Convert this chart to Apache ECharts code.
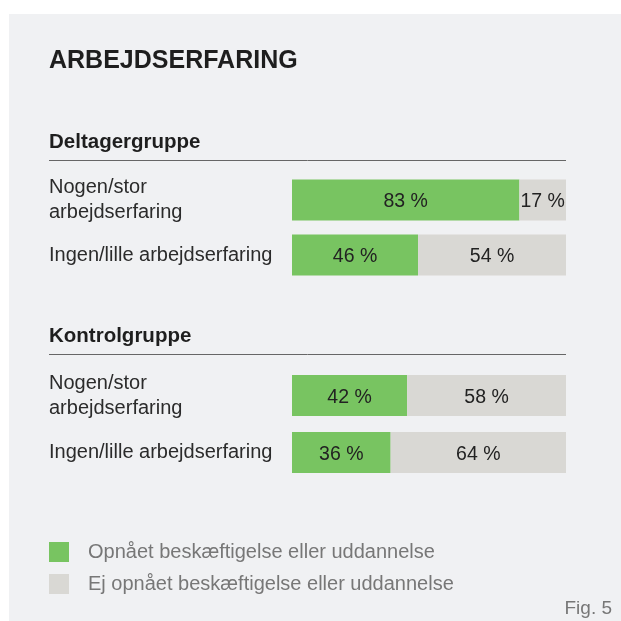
<!DOCTYPE html>
<html>
<head>
<meta charset="utf-8">
<script src="https://cdn.jsdelivr.net/npm/echarts@6/dist/echarts.min.js"></script>
<style>
  html, body { margin: 0; padding: 0; background: #fff; }
  #chart { width: 621px; height: 621px; }
</style>
</head>
<body>
<div id="chart"></div>
<script>
// data
var categories = ['Nogen/stor\narbejdserfaring', 'Ingen/lille arbejdserfaring'];
var deltagerOpnaaet = [83, 46];
var deltagerEj = [17, 54];
var kontrolOpnaaet = [42, 36];
var kontrolEj = [58, 64];
var seriesNames = ['Opnået beskæftigelse eller uddannelse', 'Ej opnået beskæftigelse eller uddannelse'];

var green = '#78c461';
var grey = '#d9d8d4';
var font = '"Liberation Sans", Arial, sans-serif';

var chart = echarts.init(document.getElementById('chart'));

function barLabel() {
    return {
        show: true,
        position: 'inside',
        offset: [0, 2],
        formatter: '{c} %',
        color: '#222',
        fontSize: 19.5,
        fontFamily: font
    };
}

function yAxis(gridIndex) {
    return {
        type: 'category',
        gridIndex: gridIndex,
        data: categories,
        inverse: true,
        axisLine: {show: false},
        axisTick: {show: false},
        axisLabel: {
            align: 'left',
            margin: 243,
            color: '#2b2b2b',
            fontSize: 20,
            lineHeight: 25,
            padding: [2, 0, 0, 0],
            fontFamily: font
        }
    };
}

function xAxis(gridIndex) {
    return {
        type: 'value',
        gridIndex: gridIndex,
        min: 0,
        max: 100,
        show: false
    };
}

var option = {
    backgroundColor: '#fff',
    animation: false,
    graphic: [
        {type: 'rect', shape: {x: 9, y: 14, width: 612, height: 607}, style: {fill: '#f0f1f3'}, z: -10},
        {type: 'text', left: 49, top: 49, style: {text: 'ARBEJDSERFARING', fill: '#1e1e1e', font: 'bold 25px ' + font}},
        {type: 'text', left: 49, top: 132, style: {text: 'Deltagergruppe', fill: '#1e1e1e', font: 'bold 20.5px ' + font}},
        {type: 'line', shape: {x1: 49, y1: 160.5, x2: 566, y2: 160.5}, style: {stroke: '#666', lineWidth: 1}},
        {type: 'text', left: 49, top: 326, style: {text: 'Kontrolgruppe', fill: '#1e1e1e', font: 'bold 20.5px ' + font}},
        {type: 'line', shape: {x1: 49, y1: 354.5, x2: 566, y2: 354.5}, style: {stroke: '#666', lineWidth: 1}},
        {type: 'text', right: 9, top: 599, style: {text: 'Fig. 5', fill: '#777', font: '19px ' + font}}
    ],
    legend: {
        orient: 'vertical',
        left: 49,
        top: 542,
        padding: 0,
        itemWidth: 20,
        itemHeight: 20,
        itemGap: 12,
        icon: 'rect',
        data: seriesNames,
        textStyle: {color: '#777', fontSize: 20, fontFamily: font, padding: [3, 0, 0, 14]}
    },
    grid: [
        {left: 292, right: 55, top: 172.5, height: 110},
        {left: 292, right: 55, top: 367, height: 114}
    ],
    xAxis: [xAxis(0), xAxis(1)],
    yAxis: [yAxis(0), yAxis(1)],
    series: [
        {name: seriesNames[0], type: 'bar', stack: 'a', xAxisIndex: 0, yAxisIndex: 0, barWidth: 41,
            itemStyle: {color: green}, label: barLabel(), data: deltagerOpnaaet},
        {name: seriesNames[1], type: 'bar', stack: 'a', xAxisIndex: 0, yAxisIndex: 0, barWidth: 41,
            itemStyle: {color: grey}, label: barLabel(), data: deltagerEj},
        {name: seriesNames[0], type: 'bar', stack: 'b', xAxisIndex: 1, yAxisIndex: 1, barWidth: 41,
            itemStyle: {color: green}, label: barLabel(), data: kontrolOpnaaet},
        {name: seriesNames[1], type: 'bar', stack: 'b', xAxisIndex: 1, yAxisIndex: 1, barWidth: 41,
            itemStyle: {color: grey}, label: barLabel(), data: kontrolEj}
    ]
};

chart.setOption(option);
</script>
</body>
</html>
